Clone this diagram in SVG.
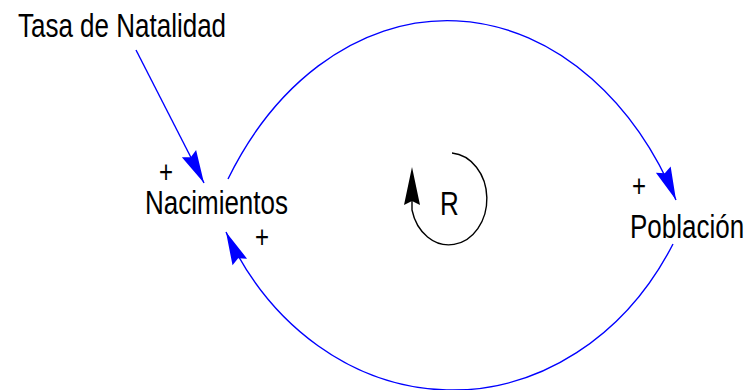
<svg xmlns="http://www.w3.org/2000/svg" width="749" height="390" viewBox="0 0 749 390">
<style>
.lbl{font-family:"Liberation Sans",Arial,sans-serif;font-size:26px;fill:#000}
.pl{font-family:"Liberation Sans",Arial,sans-serif;font-size:24px;fill:#000;text-anchor:middle}
.link{fill:none;stroke:#0000ff;stroke-width:1.4}
.loop{fill:none;stroke:#000;stroke-width:1.4}
</style>
<defs>
<marker id="ah" markerUnits="userSpaceOnUse" markerWidth="40" markerHeight="20" refX="0" refY="0" viewBox="-36 -10 40 20" orient="auto" overflow="visible">
<path d="M0,0 L-33,-8 L-29,0 L-33,8 Z" fill="#0000ff"/>
</marker>
</defs>
<rect width="749" height="390" fill="#fff"/>
<g id="connectors">
<path class="link" d="M136,50 L204,183" marker-end="url(#ah)"/>
<path class="link" d="M228,179 A262 350 0 0 1 676,200" marker-end="url(#ah)"/>
<path class="link" d="M673,244 A257 300 0 0 1 226,232" marker-end="url(#ah)"/>
</g>
<g id="loop-R">
<path class="loop" d="M452,153 A38 46 0 1 1 412,210 L412,200"/>
<path d="M412,167 L420,205 L412,201 L404,205 Z" fill="#000"/>
<text class="lbl" transform="translate(440,215) scale(1,1.3)">R</text>
</g>
<g id="node-tasa">
<text class="lbl" transform="translate(18,36.5) scale(1,1.3)">Tasa de Natalidad</text>
</g>
<g id="node-nacimientos">
<text class="lbl" transform="translate(145,214) scale(1,1.3)">Nacimientos</text>
<text class="pl" transform="translate(166,183) scale(1,1.3)">+</text>
<text class="pl" transform="translate(262,248) scale(1,1.3)">+</text>
</g>
<g id="node-poblacion">
<text class="lbl" transform="translate(630,238) scale(1,1.3)">Población</text>
<text class="pl" transform="translate(639,197) scale(1,1.3)">+</text>
</g>
</svg>
